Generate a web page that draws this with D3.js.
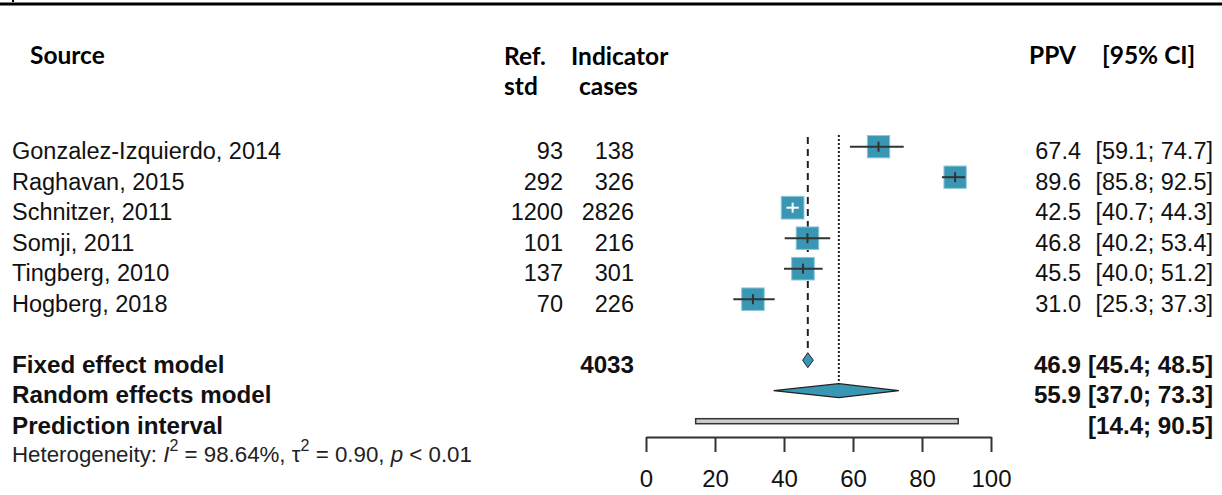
<!DOCTYPE html>
<html>
<head>
<meta charset="utf-8">
<script src="https://cdn.jsdelivr.net/npm/d3@7"></script>
<style>
  html, body { margin: 0; padding: 0; background: #fff; }
  svg { display: block; }
</style>
</head>
<body>
<svg id="chart" width="1222" height="495"></svg>
<script>
// ---- data ----
const studies = ["Gonzalez-Izquierdo, 2014", "Raghavan, 2015", "Schnitzer, 2011", "Somji, 2011", "Tingberg, 2010", "Hogberg, 2018"];
const refStd = [93, 292, 1200, 101, 137, 70];
const cases = [138, 326, 2826, 216, 301, 226];
const ppv = [67.4, 89.6, 42.5, 46.8, 45.5, 31.0];
const ciLow = [59.1, 85.8, 40.7, 40.2, 40.0, 25.3];
const ciHigh = [74.7, 92.5, 44.3, 53.4, 51.2, 37.3];
const weights = [16.4, 16.4, 17.0, 16.7, 16.8, 16.7];
const fixedModel = { est: 46.9, lo: 45.4, hi: 48.5, total: 4033 };
const randomModel = { est: 55.9, lo: 37.0, hi: 73.3 };
const predInterval = { lo: 14.4, hi: 90.5 };
const xTicks = [0, 20, 40, 60, 80, 100];
const heterogeneity = { I2: "98.64%", tau2: "0.90", p: "0.01" };

// ---- layout ----
const svg = d3.select("#chart");
const W = 1222;
const x = d3.scaleLinear().domain([0, 100]).range([646, 991]);
const rowY = d3.scaleLinear().domain([0, 1]).range([146.7, 177.2]); // row index -> y
const sq = d3.scaleSqrt().domain([0, 16.7]).range([0, 22.5]);
const fontR = "'Liberation Sans', Arial, sans-serif";
const fontH = "Lato, 'Open Sans', sans-serif";
const fs = 23.5;
const ink = "#111";
const fillCol = "#3a97b4";

// top rule
svg.append("line").attr("x1", 0).attr("x2", W).attr("y1", 4).attr("y2", 4)
  .attr("stroke", "#000").attr("stroke-width", 3);
svg.append("rect").attr("x", 12).attr("y", 0).attr("width", 2).attr("height", 2).attr("fill", "#000");

// headers
const hdr = svg.append("g").attr("font-family", fontH).attr("font-weight", "bold")
  .attr("font-size", 24.5).attr("fill", "#000");
hdr.append("text").attr("x", 30).attr("y", 64).text("Source");
hdr.append("text").attr("x", 504).attr("y", 65).text("Ref.");
hdr.append("text").attr("x", 504).attr("y", 95).text("std");
hdr.append("text").attr("x", 571).attr("y", 65).text("Indicator");
hdr.append("text").attr("x", 579).attr("y", 95).text("cases");
hdr.append("text").attr("x", 1029).attr("y", 64).text("PPV");
hdr.append("text").attr("x", 1102).attr("y", 64).text("[95% CI]");

const fmt = d3.format(".1f");
const txt = svg.append("g").attr("font-family", fontR).attr("font-size", fs).attr("fill", ink);

// study rows
studies.forEach((s, i) => {
  const y = rowY(i) + 12.5;
  txt.append("text").attr("x", 12).attr("y", y).text(s);
  txt.append("text").attr("x", 563).attr("y", y).attr("text-anchor", "end").text(refStd[i]);
  txt.append("text").attr("x", 634).attr("y", y).attr("text-anchor", "end").text(cases[i]);
  txt.append("text").attr("x", 1081).attr("y", y).attr("text-anchor", "end").text(fmt(ppv[i]));
  txt.append("text").attr("x", 1213).attr("y", y).attr("text-anchor", "end")
    .text(`[${fmt(ciLow[i])}; ${fmt(ciHigh[i])}]`);
});

// summary rows
const iF = 7, iR = 8, iP = 9;
const b = svg.append("g").attr("font-family", fontR).attr("font-size", 24.2)
  .attr("font-weight", "bold").attr("fill", ink);
b.append("text").attr("x", 12).attr("y", rowY(iF) + 12.5).text("Fixed effect model");
b.append("text").attr("x", 634).attr("y", rowY(iF) + 12.5).attr("text-anchor", "end").text(fixedModel.total);
b.append("text").attr("x", 1081).attr("y", rowY(iF) + 12.5).attr("text-anchor", "end").text(fmt(fixedModel.est));
b.append("text").attr("x", 1213).attr("y", rowY(iF) + 12.5).attr("text-anchor", "end")
  .text(`[${fmt(fixedModel.lo)}; ${fmt(fixedModel.hi)}]`);
b.append("text").attr("x", 12).attr("y", rowY(iR) + 12.5).text("Random effects model");
b.append("text").attr("x", 1081).attr("y", rowY(iR) + 12.5).attr("text-anchor", "end").text(fmt(randomModel.est));
b.append("text").attr("x", 1213).attr("y", rowY(iR) + 12.5).attr("text-anchor", "end")
  .text(`[${fmt(randomModel.lo)}; ${fmt(randomModel.hi)}]`);
b.append("text").attr("x", 12).attr("y", rowY(iP) + 12.5).text("Prediction interval");
b.append("text").attr("x", 1213).attr("y", rowY(iP) + 12.5).attr("text-anchor", "end")
  .text(`[${fmt(predInterval.lo)}; ${fmt(predInterval.hi)}]`);

// heterogeneity
const het = svg.append("text").attr("x", 12).attr("y", 462).attr("font-family", fontR)
  .attr("font-size", 22.3).attr("fill", "#222");
het.append("tspan").text("Heterogeneity: ");
het.append("tspan").attr("font-style", "italic").text("I");
het.append("tspan").attr("font-size", 16).attr("dy", -11).text("2");
het.append("tspan").attr("dy", 11).text(` = ${heterogeneity.I2}, τ`);
het.append("tspan").attr("font-size", 16).attr("dy", -11).text("2");
het.append("tspan").attr("dy", 11).text(` = ${heterogeneity.tau2}, `);
het.append("tspan").attr("font-style", "italic").text("p");
het.append("tspan").text(` < ${heterogeneity.p}`);

// reference lines
svg.append("line").attr("x1", x(fixedModel.est)).attr("x2", x(fixedModel.est))
  .attr("y1", 137).attr("y2", rowY(iF) - 8)
  .attr("stroke", "#222").attr("stroke-width", 2).attr("stroke-dasharray", "7,5");
svg.append("line").attr("x1", x(randomModel.est)).attr("x2", x(randomModel.est))
  .attr("y1", 135).attr("y2", rowY(iR) - 6)
  .attr("stroke", "#222").attr("stroke-width", 2).attr("stroke-dasharray", "2,2");

// study markers
studies.forEach((s, i) => {
  const y = rowY(i);
  const side = sq(weights[i]);
  const cx = x(ppv[i]);
  svg.append("rect").attr("x", cx - side / 2).attr("y", y - side / 2)
    .attr("width", side).attr("height", side)
    .attr("fill", fillCol).attr("stroke", "#8cc6d8").attr("stroke-width", 1);
  const inside = x(ciLow[i]) >= cx - side / 2 && x(ciHigh[i]) <= cx + side / 2;
  const c = inside ? "#fff" : "#333";
  svg.append("line").attr("x1", x(ciLow[i])).attr("x2", x(ciHigh[i]))
    .attr("y1", y).attr("y2", y).attr("stroke", c).attr("stroke-width", 2);
  svg.append("line").attr("x1", cx).attr("x2", cx).attr("y1", y - 5).attr("y2", y + 5)
    .attr("stroke", c).attr("stroke-width", 2);
});

// diamonds
function diamond(m, y, h) {
  return `M${x(m.lo)},${y} L${x(m.est)},${y - h / 2} L${x(m.hi)},${y} L${x(m.est)},${y + h / 2} Z`;
}
svg.append("path").attr("d", diamond(fixedModel, rowY(iF), 15))
  .attr("fill", fillCol).attr("stroke", "#222").attr("stroke-width", 1);
svg.append("path").attr("d", diamond(randomModel, rowY(iR), 14))
  .attr("fill", fillCol).attr("stroke", "#222").attr("stroke-width", 1.2);

// prediction interval
svg.append("rect").attr("x", x(predInterval.lo)).attr("y", rowY(iP) - 2.5)
  .attr("width", x(predInterval.hi) - x(predInterval.lo)).attr("height", 5)
  .attr("fill", "#ccc").attr("stroke", "#333").attr("stroke-width", 1.5);

// axis
const axis = svg.append("g").attr("transform", "translate(0,437)")
  .call(d3.axisBottom(x).tickValues(xTicks).tickSize(15).tickPadding(18).tickSizeOuter(0));
axis.select(".domain").attr("stroke", "#333").attr("stroke-width", 2);
axis.selectAll(".tick line").attr("stroke", "#333").attr("stroke-width", 2);
axis.selectAll(".tick text").attr("font-family", fontR).attr("font-size", 24).attr("fill", ink);
</script>
</body>
</html>
